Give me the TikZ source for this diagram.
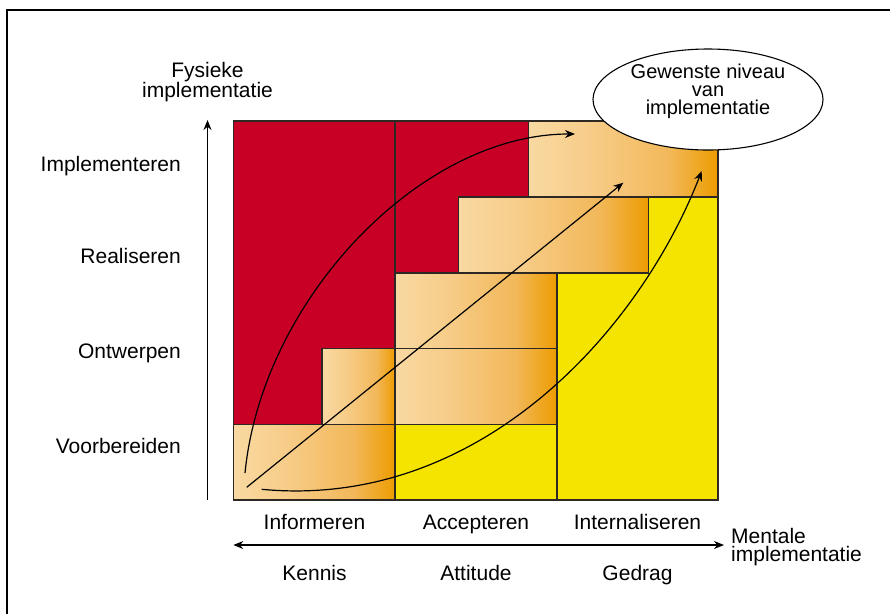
\documentclass[tikz,border=0pt]{standalone}
\usepackage{fontspec}
\setmainfont{Liberation Sans}
\usetikzlibrary{arrows.meta, shapes.geometric}
\definecolor{rood}{RGB}{200,0,38}
\definecolor{geel}{RGB}{245,228,0}
\definecolor{lijn}{RGB}{45,40,35}
\definecolor{oranjeA}{RGB}{248,217,162}
\definecolor{oranjeB}{RGB}{247,204,135}
\definecolor{oranjeC}{RGB}{242,184,90}
\definecolor{oranjeD}{RGB}{237,156,0}
\pgfdeclarehorizontalshading{oranje}{100bp}{color(0bp)=(oranjeA); color(25bp)=(oranjeA);
  color(42bp)=(oranjeB); color(62bp)=(oranjeC); color(75bp)=(oranjeD); color(100bp)=(oranjeD)}

\begin{document}
\begin{tikzpicture}[x=1pt, y=-1pt,
cell/.style={draw=lijn, line width=1.1pt},
verloop/.style={cell, shading=oranje},
lbl/.style={font=\fontsize{21}{18.5}\selectfont, inner sep=0pt, align=center},
arr/.style={-{Stealth[length=10pt, width=8pt]}, line width=1.2pt},
]
\useasboundingbox (0,0) rectangle (890,614);
\draw[line width=2pt] (6.5,614) -- (6.5,10) -- (890,10);

% vlakken
\fill[rood] (233.5,121) rectangle (395,424.5);
\fill[rood] (395,121) rectangle (557,273);
\fill[geel] (395,424.5) rectangle (557,500);
\fill[geel] (557,197) rectangle (718,500);

% trappen
\shadedraw[verloop] (233.5,424.5) rectangle (395,500);
\shadedraw[verloop] (322,348.5) rectangle (395,424.5);
\shadedraw[verloop] (395,348.5) rectangle (557,424.5);
\shadedraw[verloop] (395,273) rectangle (557,348.5);
\shadedraw[verloop] (458.7,197) rectangle (648.3,273);
\shadedraw[verloop] (528.3,121) rectangle (718,197);
\draw[cell] (233.5,121) rectangle (718,500);
\draw[cell] (395,121) -- (395,500);
\draw[cell] (557,273) -- (557,500);

% labels
\node[lbl, anchor=base east] (impl) at (181,171.7) {Implementeren};
\node[lbl, anchor=base east] (real) at (181,263) {Realiseren};
\node[lbl, anchor=base east] (ontw) at (181,358.3) {Ontwerpen};
\node[lbl, anchor=base east] (voor) at (181,453.3) {Voorbereiden};
\node[lbl, anchor=base] (fys) at (207.5,97.7) {Fysieke\\implementatie};
\node[lbl, anchor=base] (inf) at (314.5,529.3) {Informeren};
\node[lbl, anchor=base] (acc) at (476,529.3) {Accepteren};
\node[lbl, anchor=base] (int) at (637.5,529.3) {Internaliseren};
\node[lbl, anchor=base] (ken) at (314.5,580.7) {Kennis};
\node[lbl, anchor=base] (att) at (476,580.7) {Attitude};
\node[lbl, anchor=base] (ged) at (637.5,580.7) {Gedrag};
\node[lbl, anchor=base west, align=left] (ment) at (731,561.7) {Mentale\\implementatie};
\node[ellipse, draw=black, fill=white, line width=1.1pt, minimum width=230pt,
  minimum height=101pt, inner sep=0pt] (doel) at (708,99.5) {};
\node[lbl, anchor=base, font=\fontsize{20}{18}\selectfont] (doeltxt) at (708,114)
  {Gewenste niveau\\van\\implementatie};

% assen
\coordinate (yb) at (207.5,500);
\coordinate (yt) at (207.5,120);
\coordinate (xl) at (233.3,545);
\coordinate (xr) at (724,545);
\draw[arr] (yb) -- (yt);
\draw[arr, {Stealth[length=10pt, width=8pt]}-{Stealth[length=10pt, width=8pt]}] (xl) -- (xr);

% pijlen
\coordinate (a1) at (245,473);
\coordinate (b1) at (575,134);
\coordinate (a2) at (246.7,487.3);
\coordinate (b2) at (623.3,182.7);
\coordinate (a3) at (261.7,489.3);
\coordinate (b3) at (701.7,171);
\draw[arr] (a1) .. controls (262,300) and (420,134) .. (b1);
\draw[arr] (a2) -- (b2);
\draw[arr] (a3) .. controls (480,510) and (640,330) .. (b3);
\end{tikzpicture}
\end{document}
